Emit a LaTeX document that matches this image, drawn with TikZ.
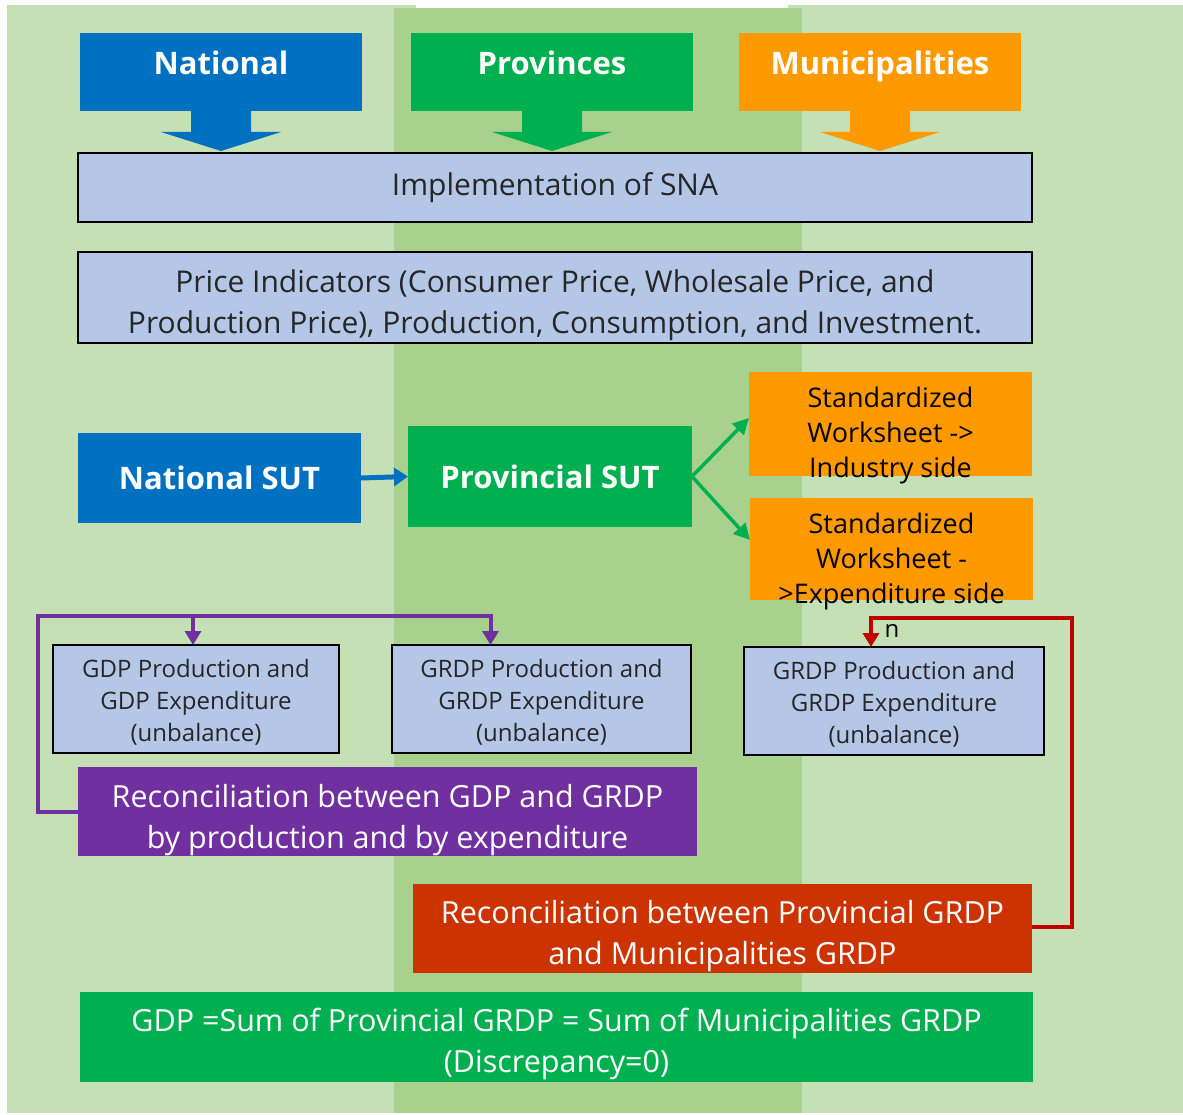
\documentclass[tikz,border=0pt]{standalone}
\usepackage{fontspec}
\setmainfont{Open Sans}
\usetikzlibrary{arrows.meta,calc}
\definecolor{bglight}{HTML}{C5E0B4}
\definecolor{bgmid}{HTML}{A9D18E}
\definecolor{cblue}{HTML}{0070C0}
\definecolor{cgreen}{HTML}{00B050}
\definecolor{corange}{HTML}{FF9900}
\definecolor{clblue}{HTML}{B4C7E7}
\definecolor{cpurple}{HTML}{7030A0}
\definecolor{credor}{HTML}{CC3300}
\definecolor{cred}{HTML}{C00000}
\newcommand{\hdrarrow}[2]{%
  \fill[#1] ([xshift=-30pt]#2) -- ([xshift=-30pt,yshift=-21pt]#2) -- ([xshift=-60pt,yshift=-21pt]#2)
    -- ([yshift=-40pt]#2) -- ([xshift=60pt,yshift=-21pt]#2) -- ([xshift=30pt,yshift=-21pt]#2)
    -- ([xshift=30pt]#2) -- cycle;}
% shifted text block: #1 vertical raise, #2 width, #3 text
\newcommand{\sht}[3]{\raisebox{#1}[0pt][0pt]{\parbox{#2}{\centering #3}}}
\begin{document}
\begin{tikzpicture}[x=1pt,y=-1pt,
  every node/.style={inner sep=0pt, outer sep=0pt, align=center},
  hdr/.style={text=white, font=\bfseries\fontsize{31}{36}\selectfont, anchor=north west,
    minimum width=282pt, minimum height=78pt},
  sut/.style={text=white, font=\bfseries\fontsize{31}{36}\selectfont, anchor=north west},
  bluebox/.style={draw=black, line width=1.6pt, fill=clblue, text=black!85, anchor=north west},
  bigtxt/.style={font=\fontsize{30}{41}\selectfont},
  midtxt/.style={font=\fontsize{24}{32}\selectfont},
  wstxt/.style={font=\fontsize{27}{35}\selectfont},
  wsbox/.style={fill=corange, text=black, anchor=north west, minimum width=283pt},
  recbox/.style={text=white, anchor=north west, font=\fontsize{30.5}{41}\selectfont},
  pline/.style={draw=cpurple, line width=4pt},
  rline/.style={draw=cred, line width=4pt},
  tipp/.style={-{Triangle[length=14pt,width=16pt]}}
]
\useasboundingbox (0,0) rectangle (1183,1115);
% background bands
\fill[bglight] (7,5) rectangle (416,1113);
\fill[bglight] (788,5) rectangle (1183,1113);
\fill[bgmid] (394,8) rectangle (802,1113);

% headers
\node[hdr, fill=cblue] (nat) at (80,33) {\sht{-2pt}{280pt}{\strut National}};
\node[hdr, fill=cgreen] (prov) at (411,33) {\sht{-2pt}{280pt}{\strut Provinces}};
\node[hdr, fill=corange] (mun) at (739,33) {\sht{-2pt}{280pt}{\strut Municipalities}};
\hdrarrow{cblue}{nat.south}
\hdrarrow{cgreen}{prov.south}
\hdrarrow{corange}{mun.south}

% SNA boxes
\node[bluebox, bigtxt, minimum width=954pt, minimum height=69pt] (sna) at (78,153) {Implementation of SNA};
\node[bluebox, bigtxt, minimum width=954pt, minimum height=91pt] (price) at (78,252)
  {\sht{-14pt}{950pt}{Price Indicators (Consumer Price, Wholesale Price, and\\Production Price), Production, Consumption, and Investment.}};

% SUT
\node[sut, fill=cblue, minimum width=283pt, minimum height=90pt] (natsut) at (78,433) {National SUT};
\node[sut, fill=cgreen, minimum width=284pt, minimum height=101pt] (provsut) at (408,426) {Provincial SUT};
\node[wsbox, wstxt, minimum height=104pt] (ws1) at (749,372)
  {\sht{-17.5pt}{283pt}{Standardized\\Worksheet ->\\Industry side}};
\node[wsbox, wstxt, minimum height=102pt] (ws2) at (750,498)
  {\sht{-18.5pt}{283pt}{Standardized\\Worksheet -\\>Expenditure side}};

\draw[draw=cblue, line width=5pt, -{Triangle[length=14pt,width=18pt]}] (natsut.east) -- (provsut.west);
\draw[draw=cgreen, line width=3.5pt, -{Triangle[length=16pt,width=16pt]}] (provsut.east) -- ([yshift=6pt]ws1.west);
\draw[draw=cgreen, line width=3.5pt, -{Triangle[length=16pt,width=16pt]}] (provsut.east) -- ([yshift=9pt]ws2.west);

% unbalance boxes
\node[bluebox, midtxt, minimum width=286pt, minimum height=108pt] (gdp) at (53,645)
  {\sht{-9.5pt}{286pt}{GDP Production and\\GDP Expenditure\\(unbalance)}};
\node[bluebox, midtxt, minimum width=299pt, minimum height=108pt] (grdp1) at (392,645)
  {\sht{-9.5pt}{299pt}{GRDP Production and\\GRDP Expenditure\\(unbalance)}};
\node[bluebox, midtxt, minimum width=300pt, minimum height=108pt] (grdp2) at (744,647)
  {\sht{-9.5pt}{300pt}{GRDP Production and\\GRDP Expenditure\\(unbalance)}};

% reconciliations
\node[recbox, fill=cpurple, minimum width=619pt, minimum height=89pt] (rec1) at (78,767)
  {\sht{-14.5pt}{619pt}{Reconciliation between GDP and GRDP\\by production and by expenditure}};
\node[recbox, fill=credor, minimum width=619pt, minimum height=89pt] (rec2) at (413,884)
  {\sht{-13.5pt}{619pt}{Reconciliation between Provincial GRDP\\and Municipalities GRDP}};
\node[recbox, fill=cgreen, minimum width=953pt, minimum height=90pt] (final) at (80,992)
  {\sht{-13.5pt}{953pt}{GDP =Sum of Provincial GRDP = Sum of Municipalities GRDP\\(Discrepancy=0)}};

% purple connector
\coordinate (pc) at (38,616);
\draw[pline, tipp] (rec1.west) -| (pc) -| ([xshift=-51pt]grdp1.north);
\draw[pline, tipp] ([xshift=-3pt]gdp.north |- pc) -- ([xshift=-3pt]gdp.north);

% red connector
\coordinate (rc) at (1072,618);
\draw[rline, tipp] ([yshift=2pt]rec2.east) -| (rc) -| ([xshift=-23pt]grdp2.north);
\node[font=\fontsize{24}{28}\selectfont, text=black] (nlab) at (892,631) {n};
\end{tikzpicture}
\end{document}
